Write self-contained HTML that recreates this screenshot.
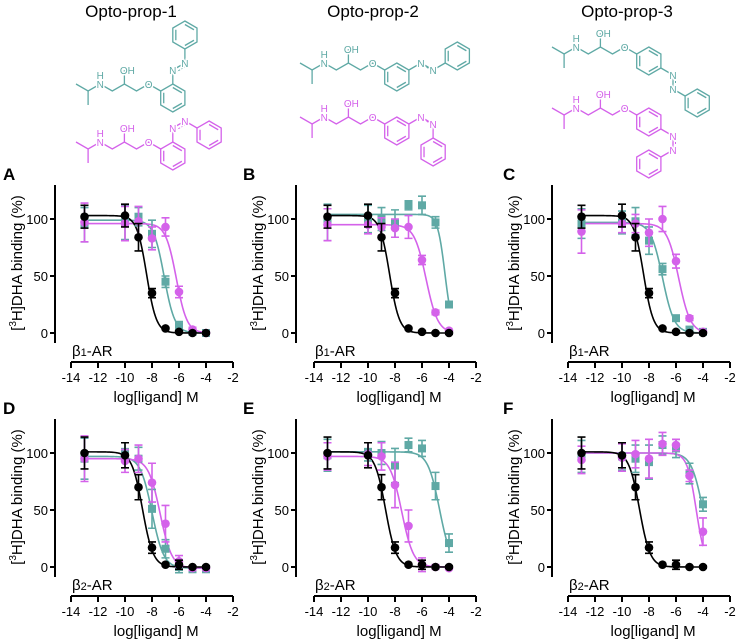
<!DOCTYPE html>
<html><head><meta charset="utf-8">
<style>
html,body{margin:0;padding:0;background:#fff;}
svg{display:block;font-family:"Liberation Sans",Arial,sans-serif;}
</style></head>
<body>
<svg id="fig" width="736" height="639" viewBox="0 0 736 639" xmlns="http://www.w3.org/2000/svg"></svg>
<script>
// ---- chart data ----
const xVals = [-13, -10, -9, -8, -7, -6, -5, -4];
const panelLetters = ['A','B','C','D','E','F'];
const receptorLabels = ['β1-AR','β1-AR','β1-AR','β2-AR','β2-AR','β2-AR'];
const titles = ['Opto-prop-1','Opto-prop-2','Opto-prop-3'];
const xTicks = [-14,-12,-10,-8,-6,-4,-2];
const yTicks = [0,50,100];

// black = propranolol, teal = trans, magenta = cis
const blackB1 = [102,103,84,35,4,1,0,0];
const blackB1Err = [10,10,12,4,1,1,1,1];
const blackB2 = [100,98,70,17,2,2,0,0];
const blackB2Err = [14,11,11,5,1,4,1,1];

const tealA = [95,97,102,87,45,6,1,0];
const tealAErr = [15,15,8,12,5,4,1,1];
const magA = [97,96,98,83,93,36,3,0];
const magAErr = [17,15,13,10,8,5,2,1];

const tealB = [97,100,100,96,112,112,97,25];
const tealBErr = [16,12,10,12,4,8,5,2];
const magB = [95,95,93,92,93,64,18,2];
const magBErr = [14,8,8,8,10,4,2,1];

const tealC = [96,97,98,81,56,13,3,1];
const tealCErr = [13,10,12,12,5,2,2,1];
const magC = [89,96,96,88,100,63,13,1];
const magCErr = [19,8,8,12,11,6,2,1];

const tealD = [95,101,95,51,16,0,-2,-2];
const tealDErr = [18,8,10,17,8,5,2,2];
const magD = [95,93,95,74,38,5,-1,-1];
const magDErr = [20,10,12,17,16,5,2,2];

const tealE = [98,101,100,89,107,104,71,21];
const tealEErr = [14,8,10,15,6,7,12,8];
const magE = [97,99,97,72,36,2,0,-1];
const magEErr = [12,10,12,20,14,6,2,1];

const tealF = [97,97,95,92,107,104,82,55];
const tealFErr = [14,12,12,15,8,8,9,6];
const magF = [94,96,99,95,108,107,80,31];
const magFErr = [12,12,12,17,10,5,5,12];

// fit params [top, bottom, logIC50, hill]
const fitBlackB1 = [103,0,-8.4,1.2];
const fitBlackB2 = [101,0,-8.7,1.1];
const fitTeal = [[99,0,-7.1,1.1],[104,0,-4.3,1.6],[97,0,-7.0,1.0],[97,-1,-8.0,1.0],[101,0,-4.7,1.0],[100,0,-4.0,1.0]];
const fitMag = [[96,0,-6.2,1.1],[95,0,-5.7,1.0],[96,0,-5.8,1.0],[95,-1,-7.4,1.0],[97,0,-7.5,1.0],[100,0,-4.5,1.3]];

const tealSeries = [tealA,tealB,tealC,tealD,tealE,tealF];
const tealErrs = [tealAErr,tealBErr,tealCErr,tealDErr,tealEErr,tealFErr];
const magSeries = [magA,magB,magC,magD,magE,magF];
const magErrs = [magAErr,magBErr,magCErr,magDErr,magEErr,magFErr];

// ---- layout ----
const TEAL = '#5fa9a5', MAG = '#d462ea';
const NS = 'http://www.w3.org/2000/svg';
const svg = document.getElementById('fig');
function el(tag, attrs, parent, txt){
  const e = document.createElementNS(NS, tag);
  for (const k in attrs) e.setAttribute(k, attrs[k]);
  if (txt !== undefined) e.textContent = txt;
  (parent || svg).appendChild(e);
  return e;
}
const yAxisXs = [55, 296, 552];
const xStart = [71, 314, 568];
const UNIT = 13.5;
const rowOff = [0, 234];

function fourPL(p, x){ return p[1] + (p[0]-p[1])/(1+Math.pow(10,(x-p[2])*p[3])); }

for (let pi = 0; pi < 6; pi++){
  const col = pi % 3, row = Math.floor(pi/3);
  const g = el('g', {});
  
  
  const off = rowOff[row];
  const ax = yAxisXs[col];
  const xs = v => xStart[col] + (v + 14) * UNIT;
  const ys = v => 333 + off - v * 1.14;

  const letter = el('text', {x: col===0?3:(col===1?243:503), y: 180+off, 'font-size':17, 'font-weight':'bold'}, g, panelLetters[pi]);
  
  

  // y axis
  const ya = el('line', {x1:ax, y1:185+off, x2:ax, y2:343+off, stroke:'#000','stroke-width':2}, g);
  
  
  yTicks.forEach(t => {
    el('line', {x1:ax-5, y1:ys(t), x2:ax, y2:ys(t), stroke:'#000','stroke-width':2}, g);
    const tl = el('text', {x:ax-7, y:ys(t)+5, 'font-size':13, 'text-anchor':'end'}, g, String(t));
    
    
  });
  const ty = 263 + off, tx = ax - 33;
  const yt = el('text', {x:tx, y:ty, 'font-size':15, 'text-anchor':'middle', transform:`rotate(-90 ${tx} ${ty})`}, g);
  
  
  el('tspan', {}, yt, '[');
  el('tspan', {'font-size':10, dy:-6}, yt, '3');
  el('tspan', {dy:6}, yt, 'H]DHA binding (%)');

  // x axis
  const xa = el('line', {x1:xs(-14), y1:362+off, x2:xs(-2), y2:362+off, stroke:'#000','stroke-width':2}, g);
  
  
  xTicks.forEach(t => {
    el('line', {x1:xs(t), y1:362+off, x2:xs(t), y2:368+off, stroke:'#000','stroke-width':2}, g);
    const tl = el('text', {x:xs(t), y:382+off, 'font-size':13, 'text-anchor':'middle'}, g, String(t));
    
    
  });
  const xt = el('text', {x:xs(-7.7), y:402+off, 'font-size':15, 'text-anchor':'middle'}, g, 'log[ligand] M');
  
  
  const rl = el('text', {x:xs(-14)+1, y:356+off, 'font-size':15}, g);
  
  
  el('tspan', {}, rl, 'β');
  el('tspan', {'font-size':11}, rl, row===0?'1':'2');
  el('tspan', {}, rl, '-AR');

  const series = [
    {name:'trans', vals:tealSeries[pi], errs:tealErrs[pi], fit:fitTeal[pi], color:TEAL, shape:'sq'},
    {name:'cis', vals:magSeries[pi], errs:magErrs[pi], fit:fitMag[pi], color:MAG, shape:'ci'},
    {name:'propranolol', vals:row===0?blackB1:blackB2, errs:row===0?blackB1Err:blackB2Err, fit:row===0?fitBlackB1:fitBlackB2, color:'#000', shape:'ci'}
  ];
  series.forEach(s => {
    let d = '';
    for (let i = 0; i <= 120; i++){
      const x = -13 + 9*i/120;
      d += (i?'L':'M') + xs(x).toFixed(2) + ',' + ys(fourPL(s.fit, x)).toFixed(2);
    }
    const c = el('path', {d:d, fill:'none', stroke:s.color, 'stroke-width':1.6}, g);
    
    
  });
  series.forEach(s => {
    xVals.forEach((xv, i) => {
      const cx = xs(xv), cy = ys(s.vals[i]), e = s.errs[i];
      const eb = el('path', {d:`M${cx},${ys(s.vals[i]+e)}V${ys(s.vals[i]-e)}M${cx-4},${ys(s.vals[i]+e)}h8M${cx-4},${ys(s.vals[i]-e)}h8`, stroke:s.color, 'stroke-width':1.6, fill:'none'}, g);
      
      
      let m;
      if (s.shape === 'sq') m = el('rect', {x:cx-4, y:cy-4, width:8, height:8, fill:s.color}, g);
      else m = el('circle', {cx:cx, cy:cy, r:4.3, fill:s.color}, g);
      
      
    });
  });
}

// titles
[131, 373, 627].forEach((cx, i) => {
  const t = el('text', {x:cx, y:17, 'font-size':17, 'text-anchor':'middle'}, svg, titles[i]);
  
  
});

// ---- chemical structures ----
const L = 14, DX = 12.1, DY = 7;
function ring(g, cx, cy, color){
  const v = [[0,-L],[DX,-DY],[DX,DY],[0,L],[-DX,DY],[-DX,-DY]].map(p=>[cx+p[0],cy+p[1]]);
  el('polygon', {points:v.map(p=>p.join(',')).join(' '), fill:'none', stroke:color, 'stroke-width':1.3}, g);
  for (let k = 0; k < 6; k += 2){
    const a = v[k], b = v[(k+1)%6];
    const f = 0.75;
    const pa = [cx+(a[0]-cx)*f, cy+(a[1]-cy)*f], pb = [cx+(b[0]-cx)*f, cy+(b[1]-cy)*f];
    el('line', {x1:pa[0], y1:pa[1], x2:pb[0], y2:pb[1], stroke:color, 'stroke-width':1.3}, g);
  }
}
function label(g, x, y, t, color){
  const tx = el('text', {x:x, y:y+4, 'font-size':10, 'text-anchor':'middle', fill:color, stroke:'#fff', 'stroke-width':3, 'paint-order':'stroke'}, g, t);
  return tx;
}
function molecule(x0, y0, color, azo, name){
  const g = el('g', {});
  
  
  const P = (i, dy) => [x0 + i*DX, y0 + dy];
  const pts = [P(0,0), P(1,DY), P(2,0), P(3,DY), P(4,0), P(5,DY), P(6,0), P(7,DY)];
  el('polyline', {points:pts.map(p=>p.join(',')).join(' '), fill:'none', stroke:color, 'stroke-width':1.3}, g);
  el('line', {x1:pts[1][0], y1:pts[1][1], x2:pts[1][0], y2:pts[1][1]+L, stroke:color, 'stroke-width':1.3}, g);
  el('line', {x1:pts[4][0], y1:pts[4][1], x2:pts[4][0], y2:pts[4][1]-L, stroke:color, 'stroke-width':1.3}, g);
  label(g, pts[2][0], pts[2][1], 'N', color);
  label(g, pts[2][0], pts[2][1]-9, 'H', color);
  label(g, pts[4][0]+3, pts[4][1]-L, 'OH', color);
  label(g, pts[6][0], pts[6][1], 'O', color);
  const rc = [x0 + 8*DX, y0 + 2*DY];
  ring(g, rc[0], rc[1], color);
  const segs = azo(rc);
  // segs: [attach, N1, N2, ringAttach, ringCenter]
  const [a, n1, n2, ra, pc] = segs;
  el('line', {x1:a[0], y1:a[1], x2:n1[0], y2:n1[1], stroke:color, 'stroke-width':1.3}, g);
  el('line', {x1:n1[0], y1:n1[1], x2:n2[0], y2:n2[1], stroke:color, 'stroke-width':1.3}, g);
  el('line', {x1:n1[0]+2.5, y1:n1[1]+2.5, x2:n2[0]+2.5, y2:n2[1]+2.5, stroke:color, 'stroke-width':1, 'stroke-dasharray':'2,1.5'}, g);
  el('line', {x1:n2[0], y1:n2[1], x2:ra[0], y2:ra[1], stroke:color, 'stroke-width':1.3}, g);
  ring(g, pc[0], pc[1], color);
  label(g, n1[0], n1[1], 'N', color);
  label(g, n2[0], n2[1], 'N', color);
}
// Opto-prop-1 (ortho)
molecule(76, 84, TEAL, rc => {const a=[rc[0], rc[1]-L]; const n1=[a[0], a[1]-L]; const n2=[n1[0]+DX, n1[1]-DY]; const ra=[n2[0], n2[1]-L]; return [a,n1,n2,ra,[ra[0], ra[1]-L]];}, 'opto-prop-1-trans-structure');
molecule(76, 142, MAG, rc => {const a=[rc[0], rc[1]-L]; const n1=[a[0], a[1]-L]; const n2=[n1[0]+DX, n1[1]-DY]; const ra=[n2[0]+DX, n2[1]+DY]; return [a,n1,n2,ra,[ra[0]+DX, ra[1]+DY]];}, 'opto-prop-1-cis-structure');
// Opto-prop-2 (meta)
molecule(300, 63, TEAL, rc => {const a=[rc[0]+DX, rc[1]-DY]; const n1=[a[0]+DX, a[1]-DY]; const n2=[n1[0]+DX, n1[1]+DY]; const ra=[n2[0]+DX, n2[1]-DY]; return [a,n1,n2,ra,[ra[0]+DX, ra[1]-DY]];}, 'opto-prop-2-trans-structure');
molecule(300, 117, MAG, rc => {const a=[rc[0]+DX, rc[1]-DY]; const n1=[a[0]+DX, a[1]-DY]; const n2=[n1[0]+DX, n1[1]+DY]; const ra=[n2[0], n2[1]+L]; return [a,n1,n2,ra,[ra[0], ra[1]+L]];}, 'opto-prop-2-cis-structure');
// Opto-prop-3 (para)
molecule(552, 47, TEAL, rc => {const a=[rc[0]+DX, rc[1]+DY]; const n1=[a[0]+DX, a[1]+DY]; const n2=[n1[0], n1[1]+L]; const ra=[n2[0]+DX, n2[1]+DY]; return [a,n1,n2,ra,[ra[0]+DX, ra[1]+DY]];}, 'opto-prop-3-trans-structure');
molecule(552, 108, MAG, rc => {const a=[rc[0]+DX, rc[1]+DY]; const n1=[a[0]+DX, a[1]+DY]; const n2=[n1[0], n1[1]+L]; const ra=[n2[0]-DX, n2[1]+DY]; return [a,n1,n2,ra,[ra[0]-DX, ra[1]+DY]];}, 'opto-prop-3-cis-structure');
</script>
</body></html>
